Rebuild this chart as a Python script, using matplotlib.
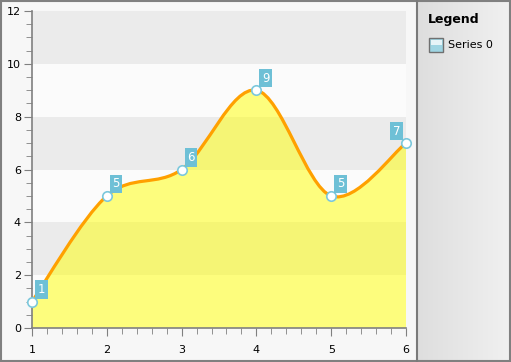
import numpy as np
import matplotlib.pyplot as plt
from matplotlib.colors import LinearSegmentedColormap
from matplotlib.path import Path
from matplotlib.patches import PathPatch, Rectangle
from matplotlib.ticker import MultipleLocator

# data
x_vals = [1, 2, 3, 4, 5, 6]
y_vals = [1, 5, 6, 9, 5, 7]
series_name = 'Series 0'

W, H = 511, 362
fig = plt.figure(figsize=(W / 100, H / 100), dpi=100)
fig.patch.set_facecolor('#f7f7f7')

# legend panel with gradient
bg = fig.add_axes([0, 0, 1, 1], zorder=-5)
bg.set_xlim(0, W)
bg.set_ylim(H, 0)
bg.axis('off')
grad = np.linspace(0, 1, 100)[None, :]
bg.imshow(grad, cmap=LinearSegmentedColormap.from_list('g', ['#dedede', '#f0f0f0']),
          extent=[417, 509, 360, 2], aspect='auto')
bg.plot([416.5, 416.5], [1, 361], color='#7a7a7a', lw=1.5)
bg.add_patch(Rectangle((0.75, 0.75), W - 1.5, H - 1.5, fill=False, ec='#808080', lw=1.5))
bg.text(428, 20, 'Legend', fontsize=9, fontweight='bold', va='center', ha='left')
bg.add_patch(Rectangle((429, 38), 14, 14, fc='#9fd5e3', ec='#707070', lw=1))
bg.add_patch(Rectangle((430.5, 39.5), 11, 5, fc='#e6f4f8', ec='none'))
bg.text(448, 45, series_name, fontsize=8, va='center', ha='left')

ax = fig.add_axes([32 / W, (H - 328) / H, (406 - 32) / W, (328 - 11) / H])
ax.set_xlim(1, 6)
ax.set_ylim(0, 12)
ax.set_facecolor('none')

# alternating bands
for i, lo in enumerate(range(0, 12, 2)):
    ax.axhspan(lo, lo + 2, color='#ebebeb' if i % 2 else '#fbfbfb', zorder=0, lw=0)

# smooth curve (cardinal spline through the points)
verts = [(x_vals[0], y_vals[0])]
codes = [Path.MOVETO]
n = len(x_vals)
for i in range(n - 1):
    p0 = (x_vals[max(i - 1, 0)], y_vals[max(i - 1, 0)])
    p1 = (x_vals[i], y_vals[i])
    p2 = (x_vals[i + 1], y_vals[i + 1])
    p3 = (x_vals[min(i + 2, n - 1)], y_vals[min(i + 2, n - 1)])
    c1 = (p1[0] + (p2[0] - p0[0]) / 6, p1[1] + (p2[1] - p0[1]) / 6)
    c2 = (p2[0] - (p3[0] - p1[0]) / 6, p2[1] - (p3[1] - p1[1]) / 6)
    verts += [c1, c2, p2]
    codes += [Path.CURVE4] * 3

line_path = Path(verts, codes)
fill_path = Path(verts + [(x_vals[-1], 0), (x_vals[0], 0), verts[0]],
                 codes + [Path.LINETO, Path.LINETO, Path.CLOSEPOLY])
ax.add_patch(PathPatch(fill_path, fc='#ffff00', alpha=0.5, ec='none', zorder=1))
ax.add_patch(PathPatch(line_path, fc='none', ec='#ffa000', lw=2.3, zorder=2, capstyle='round'))

ax.plot(x_vals, y_vals, 'o', ms=6.8, mfc='white', mec='#7cc8dc', mew=1.2, zorder=3, clip_on=False)

for xv, yv in zip(x_vals, y_vals):
    right = xv == x_vals[-1]
    ax.annotate(str(yv), (xv, yv), xytext=(-4 if right else 4, 4), textcoords='offset points',
                ha='right' if right else 'left', va='bottom', color='white', fontsize=8.5,
                bbox=dict(boxstyle='square,pad=0.22', fc='#6ec0d6', ec='none'), zorder=4,
                annotation_clip=False)

for s in ['top', 'right']:
    ax.spines[s].set_visible(False)
for s in ['left', 'bottom']:
    ax.spines[s].set_color('#808080')
    ax.spines[s].set_linewidth(1.2)
ax.xaxis.set_major_locator(MultipleLocator(1))
ax.xaxis.set_minor_locator(MultipleLocator(0.2))
ax.yaxis.set_major_locator(MultipleLocator(2))
ax.yaxis.set_minor_locator(MultipleLocator(0.5))
ax.tick_params(which='major', length=6, color='#808080', labelsize=8, pad=6)
ax.tick_params(which='minor', length=4, color='#808080')
ax.tick_params(axis='y', pad=2)

fig.savefig('out.png', dpi=100, facecolor=fig.get_facecolor())
